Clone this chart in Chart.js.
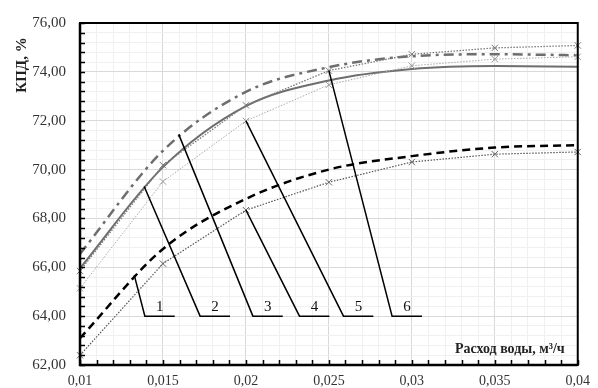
<!DOCTYPE html>
<html>
<head>
<meta charset="utf-8">
<script src="https://cdn.jsdelivr.net/npm/chart.js@4.4.1/dist/chart.umd.min.js"></script>
<style>
  html, body { margin: 0; padding: 0; background: #fff; }
  #wrap { width: 598px; height: 388px; }
</style>
</head>
<body>
<div id="wrap"><canvas id="myChart" width="598" height="388"></canvas></div>
<script>
// water flow, m3/h
var flowRates = [0.01, 0.015, 0.02, 0.025, 0.03, 0.035, 0.04];
// efficiency, % (curves 1..6)
var curve1 = [63.1, 66.75, 68.8, 70.0, 70.55, 70.9, 71.0];
var curve2 = [65.96, 70.1, 72.6, 73.65, 74.12, 74.24, 74.21];
var curve3 = [66.55, 70.77, 73.18, 74.19, 74.64, 74.72, 74.68];
var curve4 = [62.4, 66.15, 68.34, 69.48, 70.31, 70.63, 70.72];
var curve5 = [65.14, 69.51, 71.99, 73.47, 74.25, 74.52, 74.62];
var curve6 = [65.85, 70.18, 72.63, 74.05, 74.72, 74.98, 75.08];

// callout leaders, data units
var calloutLabels = ['1', '2', '3', '4', '5', '6'];
var calloutFromX = [0.01327, 0.01387, 0.01595, 0.02, 0.02, 0.025];
var calloutFromY = [65.68, 69.31, 71.44, 68.34, 71.99, 74.05];
var calloutToX = [0.01391, 0.01724, 0.02042, 0.02323, 0.02588, 0.02881];
var calloutLevel = 64;
var calloutShelf = 0.0018;

function pts(ys) {
  return flowRates.map(function(x, i) { return { x: x, y: ys[i] }; });
}
function isMult(v, m) {
  return Math.abs(v / m - Math.round(v / m)) < 1e-6;
}

var serif = "'Liberation Serif', 'Times New Roman', serif";

var decor = {
  id: 'decor',
  afterDraw: function(chart) {
    var ctx = chart.ctx, a = chart.chartArea;
    var xs = chart.scales.x, ys = chart.scales.y;
    ctx.save();
    // inward ticks
    ctx.strokeStyle = '#000';
    ctx.lineWidth = 1.5;
    ctx.beginPath();
    xs.ticks.forEach(function(t) {
      var p = Math.round(xs.getPixelForValue(t.value)) + 0.5;
      ctx.moveTo(p, a.bottom);
      ctx.lineTo(p, a.bottom - 5);
    });
    ys.ticks.forEach(function(t) {
      var p = Math.round(ys.getPixelForValue(t.value)) + 0.5;
      ctx.moveTo(a.left, p);
      ctx.lineTo(a.left + 5, p);
    });
    ctx.stroke();
    // frame
    ctx.lineWidth = 2;
    ctx.strokeRect(a.left, a.top, a.right - a.left, a.bottom - a.top);
    ctx.lineWidth = 2.5;
    ctx.beginPath();
    ctx.moveTo(a.left, a.top);
    ctx.lineTo(a.left, a.bottom);
    ctx.lineTo(a.right, a.bottom);
    ctx.stroke();

    // callouts
    ctx.lineWidth = 1.5;
    ctx.font = '15px ' + serif;
    ctx.fillStyle = '#111';
    ctx.textAlign = 'center';
    ctx.textBaseline = 'middle';
    var footY = ys.getPixelForValue(calloutLevel);
    calloutLabels.forEach(function(lbl, i) {
      var x0 = xs.getPixelForValue(calloutFromX[i]);
      var y0 = ys.getPixelForValue(calloutFromY[i]);
      var x1 = xs.getPixelForValue(calloutToX[i]);
      var x2 = xs.getPixelForValue(calloutToX[i] + calloutShelf);
      ctx.beginPath();
      ctx.moveTo(x0, y0);
      ctx.lineTo(x1, footY);
      ctx.lineTo(x2, footY);
      ctx.stroke();
      ctx.fillText(lbl, (x1 + x2) / 2, footY - 9);
    });

    // axis titles
    ctx.font = 'bold 14px ' + serif;
    ctx.fillStyle = '#222';
    ctx.textAlign = 'right';
    ctx.fillText('Расход воды, м³/ч', a.right - 13, a.bottom - 16);
    ctx.translate(22, 65);
    ctx.rotate(-Math.PI / 2);
    ctx.textAlign = 'center';
    ctx.font = 'bold 15px ' + serif;
    ctx.fillText('КПД, %', 0, 0);
    ctx.restore();
  }
};

var smooth = { cubicInterpolationMode: 'monotone', pointRadius: 0, fill: false, clip: false };
var marked = { tension: 0, pointRadius: 4.5, pointStyle: 'crossRot', pointBorderWidth: 1, fill: false, clip: false };

new Chart(document.getElementById('myChart'), {
  type: 'line',
  data: {
    datasets: [
      Object.assign({ label: '4', data: pts(curve4), borderColor: '#555', borderWidth: 1.2, borderDash: [1.5, 1.5], pointBorderColor: '#666' }, marked),
      Object.assign({ label: '5', data: pts(curve5), borderColor: '#aaa', borderWidth: 1, borderDash: [1.5, 1.5], pointBorderColor: '#999' }, marked),
      Object.assign({ label: '6', data: pts(curve6), borderColor: '#7a7a7a', borderWidth: 1.3, borderDash: [1.5, 1.5], pointBorderColor: '#777' }, marked),
      Object.assign({ label: '1', data: pts(curve1), borderColor: '#000', borderWidth: 2.5, borderDash: [8, 5] }, smooth),
      Object.assign({ label: '2', data: pts(curve2), borderColor: '#6e6e6e', borderWidth: 2 }, smooth),
      Object.assign({ label: '3', data: pts(curve3), borderColor: '#6e6e6e', borderWidth: 2.5, borderDash: [10, 5, 3, 5] }, smooth)
    ]
  },
  options: {
    responsive: false,
    animation: false,
    layout: { padding: { top: 19, right: 14, left: 0, bottom: 0 } },
    plugins: { legend: { display: false }, tooltip: { enabled: false } },
    scales: {
      x: {
        type: 'linear',
        min: 0.01,
        max: 0.04,
        afterFit: function(s) { s.height = 22; },
        border: { display: false },
        grid: {
          drawTicks: false,
          color: function(c) { return c.tick && isMult(c.tick.value, 0.005) ? '#d9d9d9' : '#f0f0f0'; }
        },
        ticks: {
          stepSize: 0.001,
          autoSkip: false,
          maxRotation: 0,
          padding: 8,
          color: '#333',
          font: { family: serif, size: 14 },
          callback: function(v) {
            return isMult(v, 0.005) ? String(Number(v.toFixed(3))).replace('.', ',') : '';
          }
        }
      },
      y: {
        min: 62,
        max: 76,
        afterFit: function(s) { s.width = 80; },
        border: { display: false },
        grid: {
          drawTicks: false,
          color: function(c) { return c.tick && isMult(c.tick.value, 2) ? '#d9d9d9' : '#f0f0f0'; }
        },
        ticks: {
          stepSize: 0.4,
          autoSkip: false,
          padding: 14,
          color: '#333',
          font: { family: serif, size: 15 },
          callback: function(v) {
            return isMult(v, 2) ? v.toFixed(2).replace('.', ',') : '';
          }
        }
      }
    }
  },
  plugins: [decor]
});
</script>
</body>
</html>
